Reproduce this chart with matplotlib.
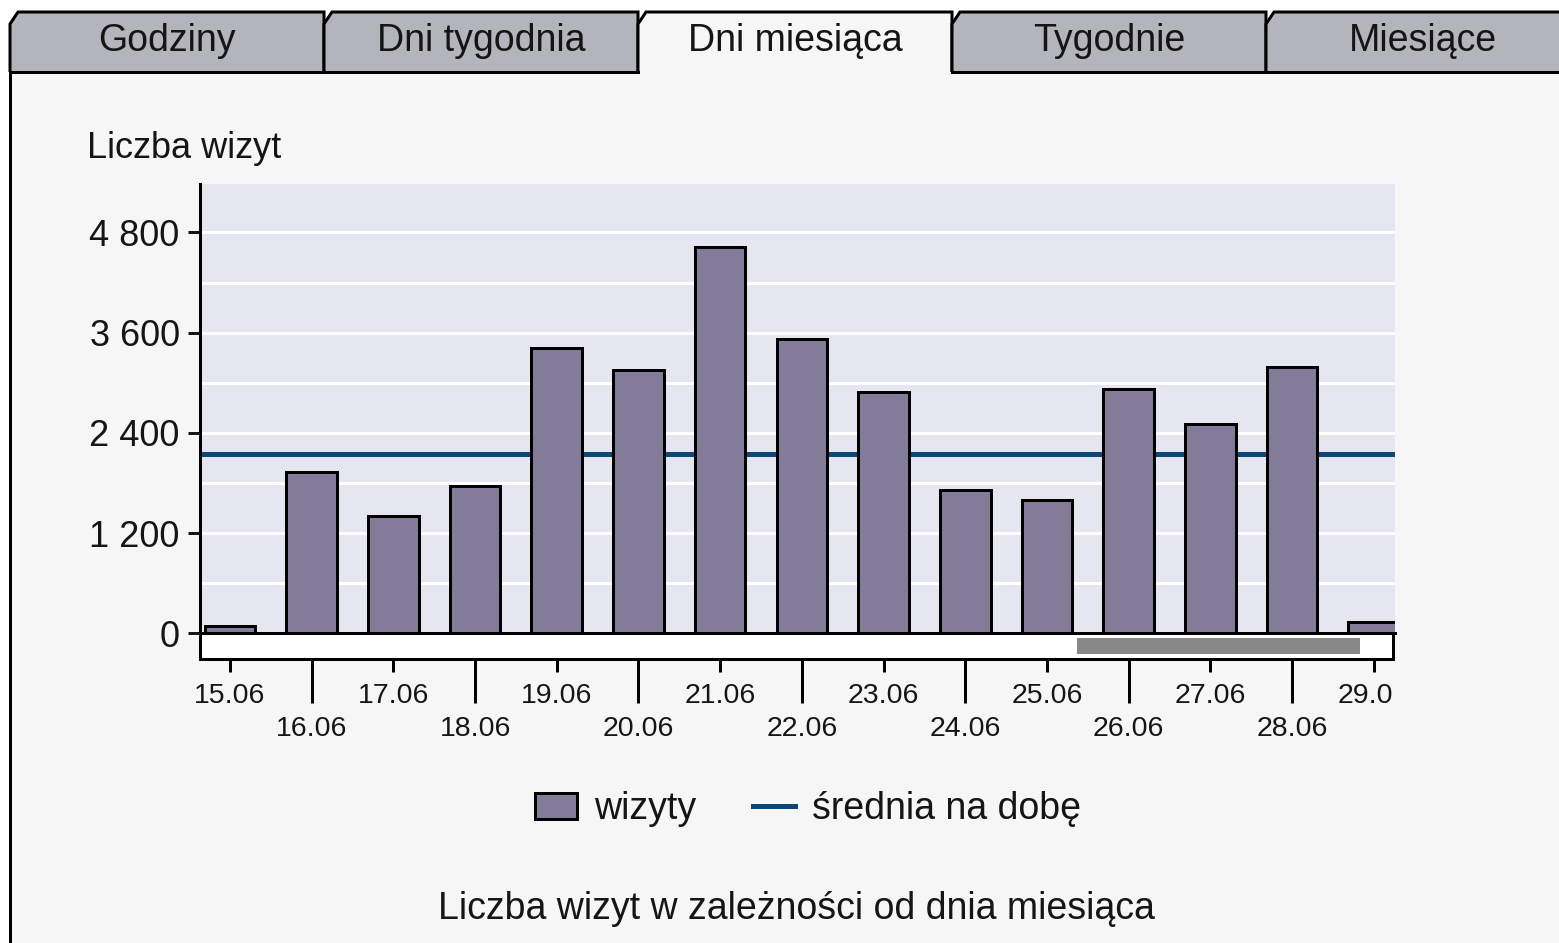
import numpy as np
import matplotlib
matplotlib.use("Agg")
import matplotlib.pyplot as plt
from matplotlib.patches import Polygon, Rectangle
from matplotlib.lines import Line2D
import matplotlib.transforms as mtransforms

plt.rcParams['font.family'] = ['Liberation Sans Narrow', 'Liberation Sans', 'DejaVu Sans']

# data
days = ["15.06", "16.06", "17.06", "18.06", "19.06", "20.06", "21.06", "22.06",
        "23.06", "24.06", "25.06", "26.06", "27.06", "28.06", "29.06"]
visits = [90, 1933, 1410, 1758, 3414, 3150, 4621, 3522, 2886, 1717, 1602, 2922, 2502, 3186, 133]
daily_mean = 2152
y_ticks = [0, 1200, 2400, 3600, 4800]
y_labels = ["0", "1 200", "2 400", "3 600", "4 800"]
tabs = ["Godziny", "Dni tygodnia", "Dni miesiąca", "Tygodnie", "Miesiące"]
active_tab = 2

W, H = 1559, 943
BAR = "#827c99"
PLOT_BG = "#e6e6f0"
PANEL = "#f6f6f6"
TAB_BG = "#b4b4bc"
MEAN_C = "#0b4779"
TXT = "#151515"
PX = 72 / 100  # points per pixel

fig = plt.figure(figsize=(W / 100, H / 100), dpi=100)
fig.patch.set_facecolor("white")

# background layer in pixel coordinates
bg = fig.add_axes([0, 0, 1, 1], zorder=0)
bg.set_xlim(0, W)
bg.set_ylim(H, 0)
bg.axis("off")
bg.add_patch(Rectangle((10, 72), W, H, facecolor=PANEL, edgecolor="none"))
bg.plot([10, 10], [72, H], color="black", lw=3 * PX)

tab_w = 314
for i, name in enumerate(tabs):
    x0 = 10 + i * tab_w
    x1 = x0 + tab_w
    pts = [(x0, 72), (x0, 24), (x0 + 8, 12), (x1, 12), (x1, 72)]
    fc = PANEL if i == active_tab else TAB_BG
    bg.add_patch(Polygon(pts, closed=False, facecolor=fc, edgecolor="black", lw=3 * PX))
    if i != active_tab:
        bg.plot([x0, x1], [72, 72], color="black", lw=3 * PX)
    bg.text((x0 + x1) / 2, 41, name, ha="center", va="center", fontsize=27, color=TXT)

bg.text(87, 148, "Liczba wizyt", ha="left", va="center", fontsize=26, color=TXT)
bg.text(796, 909, "Liczba wizyt w zależności od dnia miesiąca", ha="center", va="center",
        fontsize=27, color=TXT)

# main chart
x = np.arange(len(days))
xlim = (-0.367, 14.26)
L, R, T, B = 200, 1395, 184, 633.3
ax = fig.add_axes([L / W, 1 - B / H, (R - L) / W, (B - T) / H], zorder=2)
ax.set_facecolor(PLOT_BG)
ax.bar(x, visits, width=0.62, color=BAR, edgecolor="black", linewidth=3 * PX, zorder=3)
ax.axhline(daily_mean, color=MEAN_C, lw=5 * PX, zorder=2)
ax.set_xlim(*xlim)
ax.set_ylim(0, 5380)
ax.set_yticks(y_ticks, y_labels)
ax.set_yticks(np.arange(0, 5400, 600), minor=True)
ax.grid(True, which="both", axis="y", color="white", lw=3 * PX, zorder=0)
ax.set_axisbelow(True)
ax.tick_params(axis="y", which="major", direction="out", length=12 * PX, width=3 * PX,
               labelsize=26, pad=6, colors=TXT)
ax.tick_params(axis="y", which="minor", length=0)
ax.set_xticks([])
for s in ["top", "right"]:
    ax.spines[s].set_visible(False)
ax.spines["left"].set_linewidth(3 * PX)
ax.spines["bottom"].set_linewidth(3 * PX)

# scroll strip with date ticks
sb_top, sb_bot = 633.3, 659
strip = fig.add_axes([L / W, 1 - sb_bot / H, (1393 - L) / W, (sb_bot - sb_top) / H], zorder=2)
strip.set_facecolor("white")
strip.set_xlim(xlim[0], xlim[0] + (xlim[1] - xlim[0]) * (1393 - L) / (R - L))
strip.set_ylim(0, 1)
strip.set_yticks([])
for s in strip.spines.values():
    s.set_linewidth(3 * PX)
strip.add_patch(Rectangle(((1077 - L) / (1393 - L), 0.2), (1360 - 1077) / (1393 - L), 0.6,
                          transform=strip.transAxes, facecolor="#888888", edgecolor="none"))
strip.set_xticks(x[::2], [days[i] for i in x[::2]])
strip.set_xticks(x[1::2], [days[i] for i in x[1::2]], minor=True)
strip.tick_params(axis="x", which="major", length=13 * PX, width=3 * PX, labelsize=20.5, pad=8,
                  labelcolor=TXT)
strip.tick_params(axis="x", which="minor", length=44 * PX, width=3 * PX, labelsize=20.5, pad=9,
                  labelcolor=TXT)

fig.canvas.draw()
clip = mtransforms.TransformedBbox(mtransforms.Bbox([[0, 0], [1393 / W, 1]]), fig.transFigure)
for lbl in strip.get_xticklabels():
    lbl.set_clip_on(True)
    lbl.set_clip_box(clip)

# legend
handles = [Rectangle((0, 0), 1, 1, facecolor=BAR, edgecolor="black", lw=3 * PX),
           Line2D([], [], color=MEAN_C, lw=5 * PX)]
fig.legend(handles, ["wizyty", "średnia na dobę"], loc="center",
           bbox_to_anchor=(808 / W, 1 - 809 / H), ncol=2, frameon=False, fontsize=27,
           handlelength=1.12, handleheight=0.7, handletextpad=0.45, columnspacing=1.5,
           labelcolor=TXT)

fig.savefig("out.png", dpi=100, facecolor=fig.get_facecolor())
